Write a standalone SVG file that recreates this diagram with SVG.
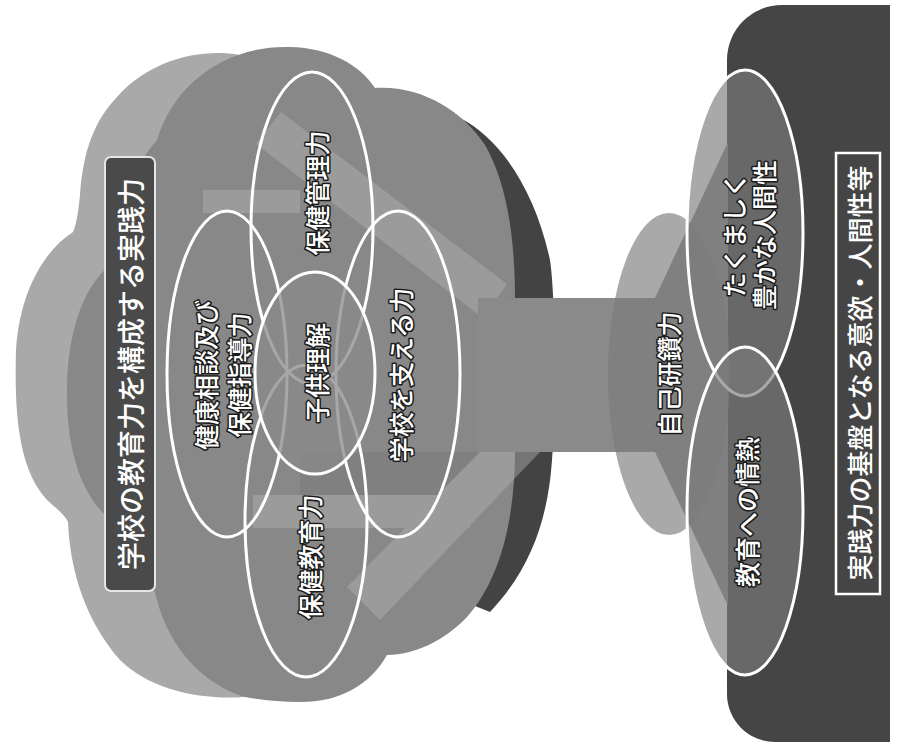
<svg xmlns="http://www.w3.org/2000/svg" width="899" height="747" viewBox="0 0 899 747">
<style>
.lbl{font-family:"Noto Sans CJK JP","Noto Sans CJK SC",sans-serif;font-size:25px;font-weight:500;fill:#fff;stroke:#1a1a1a;stroke-width:3;paint-order:stroke;stroke-linejoin:round;text-anchor:middle;dominant-baseline:central}
.ttl{font-family:"Noto Sans CJK JP","Noto Sans CJK SC",sans-serif;font-weight:500;fill:#fff;text-anchor:middle;dominant-baseline:central}
.ring{fill:none;stroke:#fff;stroke-width:3}
.tring{fill:#7b7b7b;fill-opacity:0.65;stroke:#fff;stroke-width:3}
</style>
<rect width="899" height="747" fill="#fff"/>

<g id="cloud">
  <path d="M240,55 C200,48 150,60 117,97 C95,120 83,150 80,195 C78,215 76,225 73,232 C45,250 20,290 16,350 C14,420 20,470 47,500 C58,510 65,515 68,522 C70,570 85,620 120,660 C150,690 200,700 245,697 L300,600 L300,100 Z" fill="#a9a9a9"/>
  <path d="M460,118 C500,138 535,190 550,260 C556,300 556,420 552,460 C548,520 530,570 490,612 L460,600 Z" fill="#434343"/>
  <path d="M157,140 C175,80 230,45 290,47 C330,48 360,65 375,88 C420,85 462,110 485,145 C505,180 515,230 515,300 L515,450 C515,520 500,580 467,617 C445,640 415,655 387,655 C370,685 340,702 300,702 C280,702 262,700 245,697 C205,685 170,650 157,600 C150,570 130,540 105,515 C80,490 68,450 67,400 C66,340 80,290 110,265 C115,220 130,170 157,140 Z" fill="#888888"/>
  <g id="cloud-arrows">
    <path d="M281,112 L507,284 L483,318 L256,144 Z M203,190 L300,190 L300,213 L203,213 Z M347,587 L480,452 L540,452 L380,620 Z M253,495 L470,495 L470,528 L253,528 Z" fill="#b4b4b4" fill-opacity="0.45"/>
    <path d="M300,452 L480,452 L437,495 L300,495 Z" fill="#000" fill-opacity="0.06"/>
  </g>
</g>

<g id="base">
  <path d="M782,5 L890,5 L890,742 L775,742 A48,48 0 0 1 727,694 L727,60 A55,55 0 0 1 782,5 Z" fill="#454545"/>
</g>

<g id="connectors">
  <g id="trunk">
    <rect x="478" y="298" width="182" height="154" fill="#8a8a8a"/>
    <path d="M655,298 L728,142 L728,606 L655,452 Z" fill="#8a8a8a"/>
  </g>
</g>

<g id="title">
  <rect x="105" y="157" width="50" height="434" rx="6" fill="#4a4a4a" stroke="#e6e6e6" stroke-width="2"/>
  <text class="ttl" font-size="28" transform="translate(130,374) rotate(-90)">学校の教育力を構成する実践力</text>
</g>

<g id="node-hokenkanri">
  <ellipse class="ring" cx="312" cy="228" rx="61" ry="156"/>
</g>
<g id="node-kenkousoudan">
  <ellipse class="ring" cx="227" cy="374" rx="60" ry="163"/>
</g>
<g id="node-gakkou">
  <ellipse class="ring" cx="398" cy="374" rx="62" ry="163"/>
</g>
<g id="node-hokenkyouiku">
  <ellipse class="ring" cx="306" cy="521" rx="61" ry="156"/>
</g>
<g id="node-kodomo">
  <ellipse cx="315" cy="373" rx="60" ry="101" fill="#8a8a8a" fill-opacity="0.75" stroke="#fff" stroke-width="3"/>
</g>

<g id="labels-cloud">
  <text class="lbl" transform="translate(316,193) rotate(-90)">保健管理力</text>
  <g transform="translate(221,375) rotate(-90)">
    <text class="lbl" x="0" y="-16">健康相談及び</text>
    <text class="lbl" x="0" y="17">保健指導力</text>
  </g>
  <text class="lbl" transform="translate(316,373) rotate(-90)">子供理解</text>
  <text class="lbl" transform="translate(400,375) rotate(-90)">学校を支える力</text>
  <text class="lbl" transform="translate(309,557) rotate(-90)">保健教育力</text>
</g>

<g id="node-jikokensan">
  <ellipse cx="669" cy="374" rx="61" ry="161" fill="#7b7b7b" fill-opacity="0.65"/>
  <text class="lbl" transform="translate(668,374) rotate(-90)">自己研鑽力</text>
</g>

<g id="node-ningensei">
  <ellipse class="tring" cx="745" cy="233" rx="58" ry="163"/>
</g>
<g id="node-jounetsu">
  <ellipse class="tring" cx="745" cy="511" rx="58" ry="164"/>
</g>
<g id="labels-base">
  <g transform="translate(748,235) rotate(-90)">
    <text class="lbl" x="0" y="-15">たくましく</text>
    <text class="lbl" x="0" y="15">豊かな人間性</text>
  </g>
  <text class="lbl" transform="translate(746,512) rotate(-90)">教育への情熱</text>
</g>

<g id="base-label">
  <rect x="836" y="153" width="44" height="441" fill="none" stroke="#fff" stroke-width="2.5"/>
  <text class="ttl" font-size="26" transform="translate(858,373) rotate(-90)">実践力の基盤となる意欲・人間性等</text>
</g>
</svg>
